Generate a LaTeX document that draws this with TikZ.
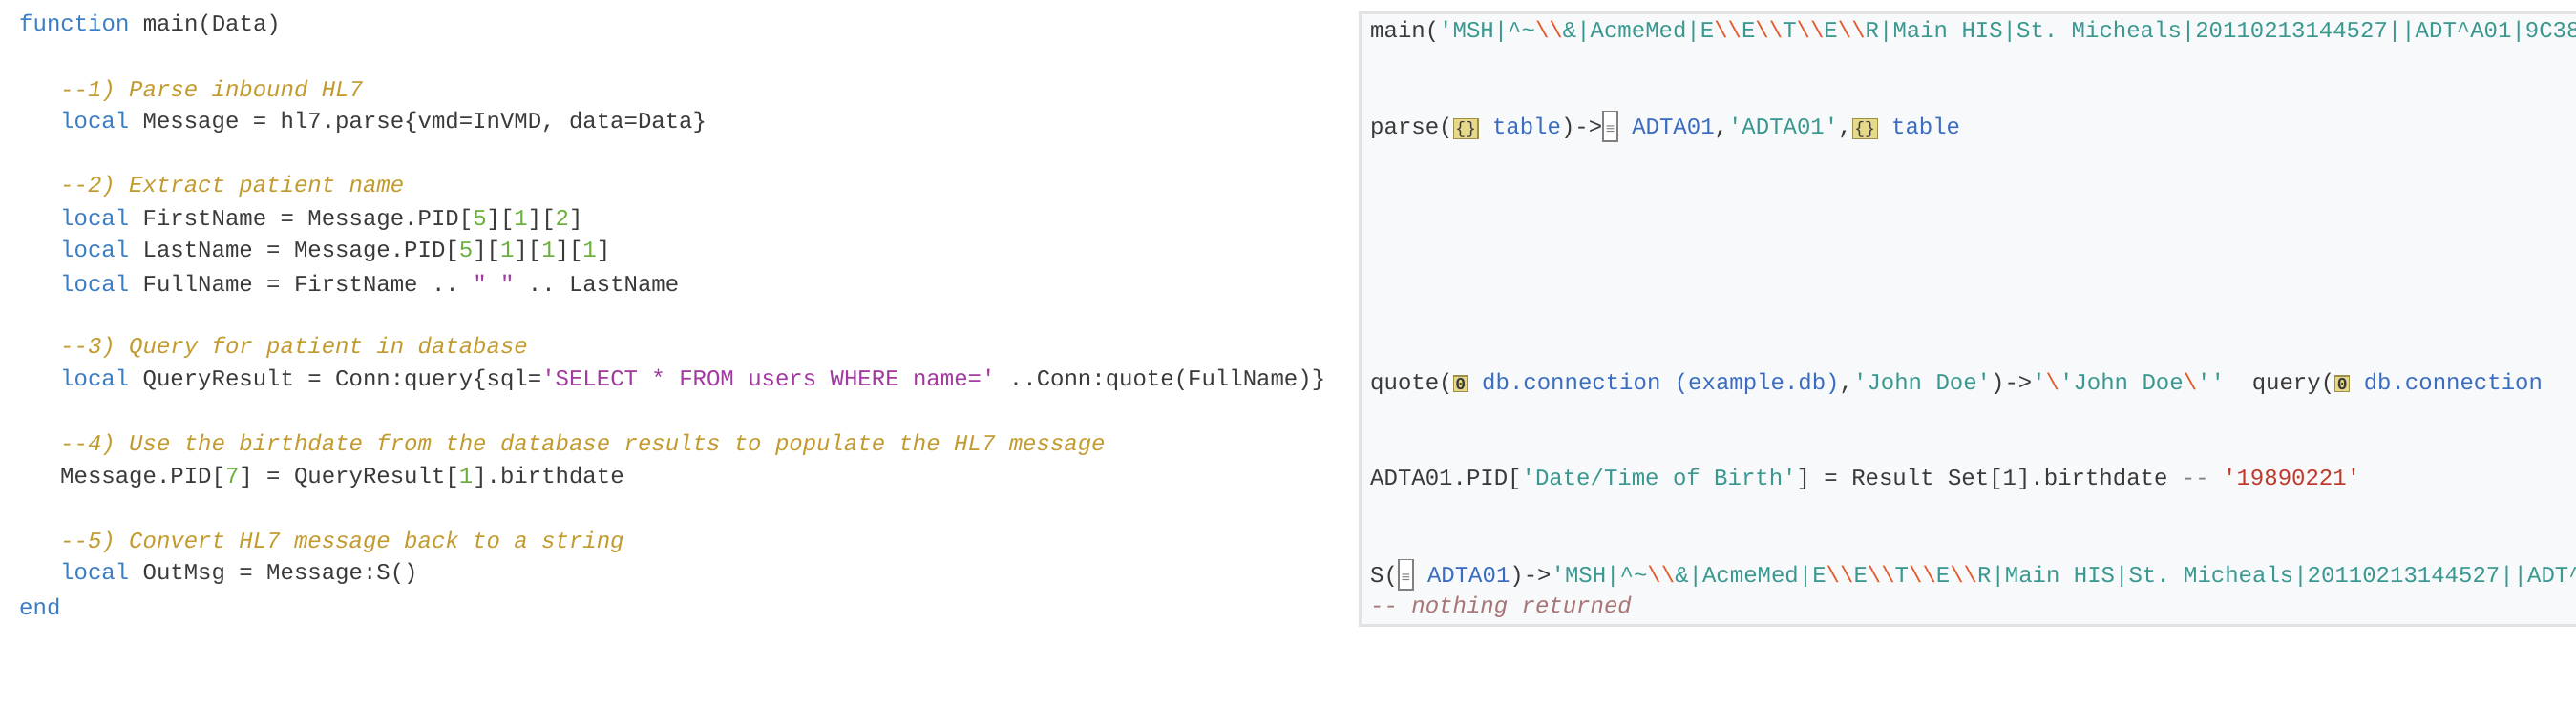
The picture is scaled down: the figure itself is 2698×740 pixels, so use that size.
\documentclass[tikz,border=0pt]{standalone}
\usepackage{fontspec}
\setmonofont{Liberation Mono}
\usepackage{xcolor}
\usetikzlibrary{positioning}

\definecolor{kwblue}{HTML}{3B7DC4}
\definecolor{txtgray}{HTML}{3A3A3A}
\definecolor{cmgold}{HTML}{C29A2E}
\definecolor{strteal}{HTML}{3A9890}
\definecolor{numgreen}{HTML}{6AAE3C}
\definecolor{sqlpurple}{HTML}{A23AA0}
\definecolor{escred}{HTML}{E45A2C}
\definecolor{datered}{HTML}{C0392B}
\definecolor{nilbrown}{HTML}{A87474}
\definecolor{typeblue}{HTML}{3A6CC0}
\definecolor{panelbg}{HTML}{F8F9FB}
\definecolor{panelrule}{HTML}{E2E3E5}
\definecolor{iconfill}{HTML}{E6D98A}
\definecolor{iconrule}{HTML}{9C8F4A}

\newcommand{\kw}[1]{\textcolor{kwblue}{#1}}
\newcommand{\cm}[1]{\textcolor{cmgold}{\itshape #1}}
\newcommand{\st}[1]{\textcolor{strteal}{#1}}
\newcommand{\nm}[1]{\textcolor{numgreen}{#1}}
\newcommand{\sq}[1]{\textcolor{sqlpurple}{#1}}
\newcommand{\es}{\textcolor{escred}{\textbackslash\textbackslash}}
\newcommand{\esone}{\textcolor{escred}{\textbackslash}}
\newcommand{\ty}[1]{\textcolor{typeblue}{#1}}
\newcommand{\tblicon}{{\setlength{\fboxsep}{1.5pt}\setlength{\fboxrule}{1.2pt}\fcolorbox{iconrule}{iconfill}{\fontsize{18}{18}\selectfont\textcolor{txtgray}{\{\}}}}}
\newcommand{\dbicon}{{\setlength{\fboxsep}{1.5pt}\setlength{\fboxrule}{1.2pt}\fcolorbox{iconrule}{iconfill}{\fontsize{18}{18}\selectfont\textcolor{txtgray}{\textbf{0}}}}}
\newcommand{\docicon}{{\setlength{\fboxsep}{2pt}\setlength{\fboxrule}{1.5pt}\fcolorbox{gray}{white}{\rule[-5pt]{0pt}{26pt}\fontsize{16}{16}\selectfont\textcolor{gray}{≡}}}}
\newcommand{\hlmsg}{\st{'MSH|\textasciicircum\textasciitilde}\es\st{\&|AcmeMed|E}\es\st{E}\es\st{T}\es\st{E}\es\st{R|Main HIS|St. Micheals|20110213144527||ADT\textasciicircum A01|9C38}}

\begin{document}
\begin{tikzpicture}[
    x=1pt, y=1pt,
    code/.style={anchor=west, inner sep=0pt, text=txtgray, font=\ttfamily\fontsize{24}{28}\selectfont}
]
\useasboundingbox (0,0) rectangle (2698,-740);

% source listing
\node[code] (l1) at (20,-26) {\kw{function} main(Data)};
\node[code] (l2) at (63,-95) {\cm{--1) Parse inbound HL7}};
\node[code] (l3) at (63,-128) {\kw{local} Message = hl7.parse\{vmd=InVMD, data=Data\}};
\node[code] (l4) at (63,-195) {\cm{--2) Extract patient name}};
\node[code] (l5) at (63,-230) {\kw{local} FirstName = Message.PID[\nm{5}][\nm{1}][\nm{2}]};
\node[code] (l6) at (63,-263) {\kw{local} LastName = Message.PID[\nm{5}][\nm{1}][\nm{1}][\nm{1}]};
\node[code] (l7) at (63,-297) {\kw{local} FullName = FirstName .. \sq{" "} .. LastName};
\node[code] (l8) at (63,-364) {\cm{--3) Query for patient in database}};
\node[code] (l9) at (63,-398) {\kw{local} QueryResult = Conn:query\{sql=\sq{'SELECT * FROM users WHERE name='} ..Conn:quote(FullName)\}};
\node[code] (l10) at (63,-466) {\cm{--4) Use the birthdate from the database results to populate the HL7 message}};
\node[code] (l11) at (63,-500) {Message.PID[\nm{7}] = QueryResult[\nm{1}].birthdate};
\node[code] (l12) at (63,-568) {\cm{--5) Convert HL7 message back to a string}};
\node[code] (l13) at (63,-601) {\kw{local} OutMsg = Message:S()};
\node[code] (l14) at (20,-636) {\kw{end}};

% annotation panel
\begin{scope}
\clip (1422,-11) rectangle (2698,-657);
\draw[panelrule, fill=panelbg, line width=3pt] (1424,-13) rectangle (2720,-655);
\node[code] (r1) at (1435,-33) {main(\hlmsg};
\node[code] (r2) at (1435,-132) {parse(\tblicon\ \ty{table})->\docicon\ \ty{ADTA01},\st{'ADTA01'},\tblicon\ \ty{table}};
\node[code] (r3) at (1435,-402) {quote(\dbicon\ \ty{db.connection (example.db)},\st{'John Doe'})->\st{'}\esone\st{'John Doe}\esone\st{''}\ \ query(\dbicon\ \ty{db.connection}};
\node[code] (r4) at (1435,-502) {ADTA01.PID[\st{'Date/Time of Birth'}] = Result Set[1].birthdate \textcolor{gray}{--} \textcolor{datered}{'19890221'}};
\node[code] (r5) at (1435,-602) {S(\docicon\ \ty{ADTA01})->\hlmsg};
\node[code] (r6) at (1435,-636) {\textcolor{nilbrown}{\itshape -- nothing returned}};
\end{scope}

\end{tikzpicture}
\end{document}
